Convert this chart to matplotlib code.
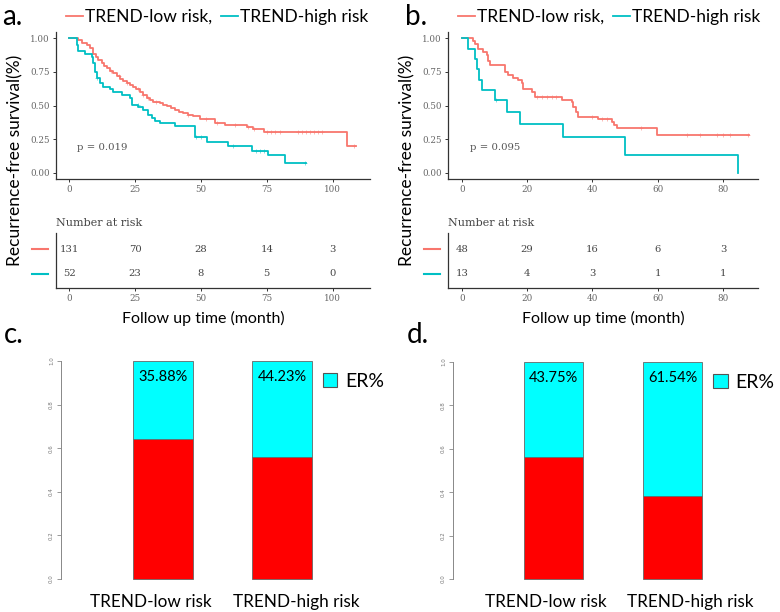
import matplotlib
matplotlib.use("Agg")
import matplotlib.pyplot as plt
import numpy as np
from matplotlib.lines import Line2D
from matplotlib.patches import Patch
from matplotlib.transforms import blended_transform_factory, ScaledTranslation

# ---- KM data ----
# panel a, TREND-low risk
a_low_t = [0, 3.4, 4.7, 6.6, 7.9, 9.1, 10.0, 11.0, 12.3, 13.2, 14.2, 15.5, 16.7, 18.0,
           19.2, 20.5, 21.8, 23.0, 24.3, 25.5, 26.8, 28.0, 29.4, 30.5, 31.9, 34.4, 35.5,
           37.0, 38.5, 40.1, 41.5, 43.3, 45.0, 47.1, 49.6, 55.3, 59.1, 67.3, 69.9, 73.9, 105.3]
a_low_s = [1.0, 0.985, 0.967, 0.95, 0.925, 0.88, 0.86, 0.838, 0.814, 0.795, 0.777, 0.76, 0.74, 0.72,
           0.70, 0.683, 0.665, 0.652, 0.64, 0.62, 0.603, 0.578, 0.553, 0.54, 0.528, 0.516, 0.505,
           0.496, 0.48, 0.467, 0.455, 0.442, 0.432, 0.422, 0.40, 0.368, 0.355, 0.338, 0.323, 0.30, 0.20]
a_low_end = 109
a_low_cens = [16, 19, 22, 26, 28, 30, 33, 45, 52, 56, 63, 68, 70, 75, 76.5, 78, 80,
              87, 88.5, 90, 91.5, 93, 94.5, 96, 108]

# panel a, TREND-high risk
a_high_t = [0, 2.8, 3.4, 6.0, 8.5, 9.1, 9.8, 10.4, 11.7, 12.9, 15.5, 16.7, 19.9, 23.0, 23.7,
            26.2, 28.1, 30.0, 31.3, 32.5, 34.4, 40.1, 47.7, 52.2, 60.1, 69.5, 75.3, 81.9]
a_high_s = [1.0, 0.95, 0.908, 0.883, 0.858, 0.814, 0.752, 0.702, 0.665, 0.64, 0.62, 0.60, 0.578,
            0.553, 0.504, 0.486, 0.466, 0.43, 0.405, 0.387, 0.372, 0.347, 0.263, 0.231, 0.196,
            0.164, 0.132, 0.07]
a_high_end = 90
a_high_cens = [10.5, 26, 48, 50, 62, 71, 72.5, 74, 89.5]

# panel b, TREND-low risk
b_low_t = [0, 3.6, 4.1, 5.1, 6.6, 7.6, 8.1, 8.7, 13.3, 14.3, 15.8, 17.3, 18.4, 18.9, 21.4,
           22.4, 30.6, 33.7, 34.2, 35.0, 35.7, 41.8, 45.9, 46.6, 47.6, 59.9]
b_low_s = [1.0, 0.979, 0.958, 0.917, 0.896, 0.875, 0.833, 0.80, 0.75, 0.729, 0.708, 0.688, 0.667,
           0.625, 0.60, 0.566, 0.541, 0.528, 0.49, 0.454, 0.415, 0.397, 0.38, 0.355, 0.33, 0.28]
b_low_end = 87.8
b_low_cens = [23, 24.5, 26, 27.5, 29, 40, 43, 44.5, 55, 69, 73, 78, 80, 82, 87.5]

# panel b, TREND-high risk
b_high_t = [0, 2.0, 4.0, 4.8, 5.4, 6.1, 10.2, 14.0, 17.9, 30.9, 50.0, 84.6]
b_high_s = [1.0, 0.923, 0.846, 0.769, 0.692, 0.615, 0.538, 0.449, 0.359, 0.269, 0.135, 0.0]
b_high_end = 84.6
b_high_cens = [10.5]

# numbers at risk
a_risk_times = [0, 25, 50, 75, 100]
a_risk_low = [131, 70, 28, 14, 3]
a_risk_high = [52, 23, 8, 5, 0]
b_risk_times = [0, 20, 40, 60, 80]
b_risk_low = [48, 29, 16, 6, 3]
b_risk_high = [13, 4, 3, 1, 1]

a_pval = "p = 0.019"
b_pval = "p = 0.095"

# ---- ER bar data ----
groups = ["TREND-low risk", "TREND-high risk"]
c_er = [35.88, 44.23]
d_er = [43.75, 61.54]

RED = "#F8766D"
CYAN = "#00BFC4"
SANS = ["Lato", "DejaVu Sans"]
SERIF = ["DejaVu Serif"]
W, H = 780, 612


def box(x0, y0, x1, y1):
    return [x0 / W, 1 - y1 / H, (x1 - x0) / W, (y1 - y0) / H]


def km(ax, curves, xlim, xticks, pval):
    for t, s, end, cens, col in curves:
        tt = np.r_[t, end]
        ss = np.r_[s, s[-1]]
        ax.step(tt, ss, where="post", color=col, lw=1.3)
        idx = np.searchsorted(t, cens, side="right") - 1
        ax.plot(cens, np.array(s)[idx], ls="none", marker="+", ms=3, mew=0.5, color=col, alpha=0.7)
    ax.set_xlim(*xlim)
    ax.set_ylim(-0.047, 1.047)
    ax.set_xticks(xticks)
    ax.set_yticks([0, 0.25, 0.5, 0.75, 1.0])
    ax.set_yticklabels(["%.2f" % v for v in [0, 0.25, 0.5, 0.75, 1.0]])
    for sp in ["top", "right"]:
        ax.spines[sp].set_visible(False)
    for sp in ["left", "bottom"]:
        ax.spines[sp].set_color("#333333")
        ax.spines[sp].set_linewidth(0.9)
    ax.tick_params(length=2.5, width=0.7, color="#333333", labelcolor="#666666", labelsize=6.3, pad=2)
    for lab in ax.get_xticklabels() + ax.get_yticklabels():
        lab.set_family(SERIF)
    ax.text(xticks[0] + 0.03 * (xticks[-1] - xticks[0]), 0.19, pval, family=SERIF,
            fontsize=7.3, color="#555555", va="center")


def risk_table(ax, times, low, high, xlim, xlab_x):
    ax.set_xlim(*xlim)
    ax.set_ylim(0.44, 2.64)
    for row, vals in [(2, low), (1, high)]:
        for t, n in zip(times, vals):
            ax.text(t, row, str(n), ha="center", va="center", family=SERIF,
                    fontsize=7.2, color="#444444")
    tr = blended_transform_factory(ax.transAxes, ax.transData)
    ax.plot([-0.076, -0.025], [2, 2], color=RED, lw=1.5, transform=tr, clip_on=False)
    ax.plot([-0.076, -0.025], [1, 1], color=CYAN, lw=1.5, transform=tr, clip_on=False)
    ax.set_xticks(times)
    ax.set_yticks([])
    for sp in ["top", "right"]:
        ax.spines[sp].set_visible(False)
    for sp in ["left", "bottom"]:
        ax.spines[sp].set_color("#333333")
        ax.spines[sp].set_linewidth(0.9)
    ax.tick_params(length=2.5, width=0.7, color="#333333", labelcolor="#666666", labelsize=6.3, pad=2)
    for lab in ax.get_xticklabels():
        lab.set_family(SERIF)
    ax.text(0, 1.18, "Number at risk", transform=ax.transAxes, family=SERIF,
            fontsize=8, color="#444444", va="center")
    ax.text(xlab_x, -0.55, "Follow up time (month)", transform=ax.transAxes, family=SANS,
            fontsize=11.5, ha="center", va="center")


def er_bars(ax, er, xlim, shifts):
    x = np.array([1.5, 3.5])
    er = np.array(er) / 100
    rest = 1 - er
    ax.bar(x, rest, width=1, color="#FF0000", edgecolor="#666666", lw=0.6, clip_on=False)
    ax.bar(x, er, width=1, bottom=rest, color="#00FFFF", edgecolor="#666666", lw=0.6, clip_on=False)
    for xi, v in zip(x, er):
        ax.text(xi, 0.925, "%.2f%%" % (v * 100), ha="center", va="center", family=SANS, fontsize=10.5)
    ax.set_xlim(*xlim)
    ax.set_ylim(0, 1)
    ax.set_xticks([])
    # group names sit under the bars, a bit spread apart as in the original
    base = blended_transform_factory(ax.transData, ax.transAxes)
    for xi, name, dx in zip(x, groups, shifts):
        tr = base + ScaledTranslation(dx / 100, -0.23, fig.dpi_scale_trans)
        ax.text(xi, 0, name, transform=tr, ha="center", va="center", family=SANS, fontsize=12.3)
    ax.set_yticks(np.arange(0, 1.01, 0.2))
    ax.set_yticklabels(["%.1f" % v for v in np.arange(0, 1.01, 0.2)], rotation=90,
                       va="center", fontsize=4, color="#777777")
    for sp in ["top", "right", "bottom"]:
        ax.spines[sp].set_visible(False)
    ax.spines["left"].set_color("#888888")
    ax.spines["left"].set_linewidth(0.7)
    ax.tick_params(axis="y", length=3, width=0.6, color="#888888", pad=2)
    ax.legend(handles=[Patch(facecolor="#00FFFF", edgecolor="#555555", lw=0.8)], labels=["ER%"],
              loc="upper left", bbox_to_anchor=(0.795, 0.945), frameon=False,
              handlelength=0.75, handleheight=0.7, handletextpad=0.4, borderpad=0,
              borderaxespad=0, prop={"family": SANS, "size": 14})


fig = plt.figure(figsize=(7.8, 6.12), dpi=100)

ax_a = fig.add_axes(box(56, 32, 370, 179))
km(ax_a, [(a_low_t, a_low_s, a_low_end, a_low_cens, RED),
          (a_high_t, a_high_s, a_high_end, a_high_cens, CYAN)],
   (-5.05, 114.2), [0, 25, 50, 75, 100], a_pval)
ax_b = fig.add_axes(box(448, 32, 758, 179))
km(ax_b, [(b_low_t, b_low_s, b_low_end, b_low_cens, RED),
          (b_high_t, b_high_s, b_high_end, b_high_cens, CYAN)],
   (-4.2, 90.7), [0, 20, 40, 60, 80], b_pval)

ax_at = fig.add_axes(box(56, 233, 370, 288))
risk_table(ax_at, a_risk_times, a_risk_low, a_risk_high, (-5.05, 114.2), 0.47)
ax_bt = fig.add_axes(box(448, 233, 758, 288))
risk_table(ax_bt, b_risk_times, b_risk_low, b_risk_high, (-4.2, 90.7), 0.5)

ax_c = fig.add_axes(box(61, 361, 390, 579))
er_bars(ax_c, c_er, (-0.214, 5.315), (-12, 14))
ax_d = fig.add_axes(box(453, 362, 780, 579))
er_bars(ax_d, d_er, (-0.189, 5.307), (-8, 18))

handles = [Line2D([], [], color=RED, lw=1.3), Line2D([], [], color=CYAN, lw=1.3)]
for xl in [66, 458]:
    fig.legend(handles, ["TREND-low risk,", "TREND-high risk"], ncol=2, loc="center left",
               bbox_to_anchor=(xl / W, 1 - 17 / H), frameon=False, handlelength=1.0,
               handletextpad=0.1, columnspacing=0.5, borderpad=0, borderaxespad=0,
               prop={"family": SANS, "size": 12.5})

for xl in [15, 407]:
    fig.text(xl / W, 1 - 160 / H, "Recurrence-free survival(%)", rotation=90, family=SANS,
             fontsize=12.5, ha="center", va="center")

for xl, yl, lab in [(2, 17, "a."), (405, 17, "b."), (4, 335, "c."), (407, 335, "d.")]:
    fig.text(xl / W, 1 - yl / H, lab, family=SANS, fontsize=20, va="center", ha="left")

fig.savefig("out.png", dpi=100)
